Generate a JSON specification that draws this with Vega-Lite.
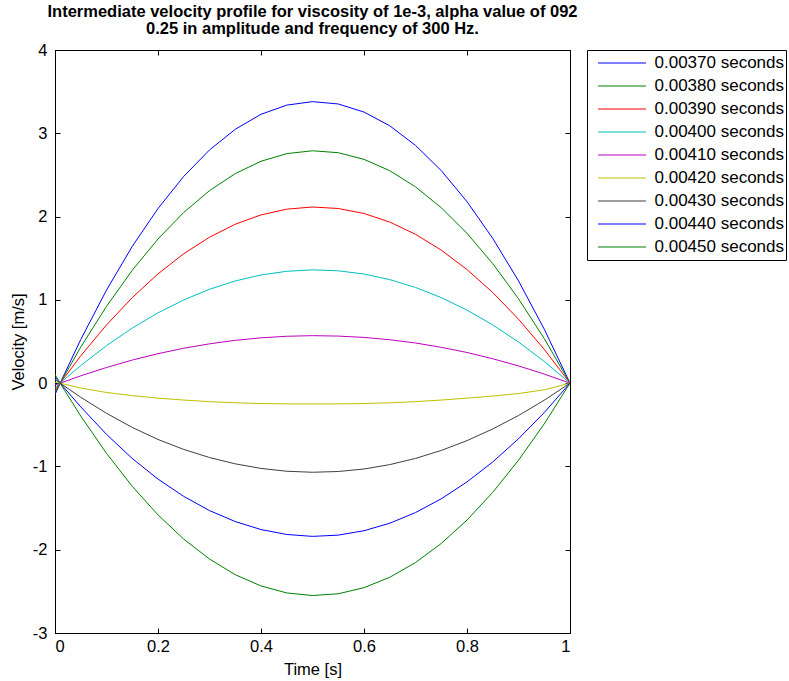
{
  "$schema": "https://vega.github.io/schema/vega-lite/v6.json",
  "width": 515,
  "height": 583,
  "autosize": {"type": "none"},
  "padding": {"left": 55, "top": 50, "right": 219, "bottom": 48},
  "background": "white",
  "title": {
    "text": ["Intermediate velocity profile for viscosity of 1e-3, alpha value of 092", "0.25 in amplitude and frequency of 300 Hz."],
    "font": "Liberation Sans",
    "fontSize": 16.5,
    "fontWeight": "bold",
    "color": "black",
    "lineHeight": 17,
    "offset": 5,
    "anchor": "middle"
  },
  "config": {
    "view": {"stroke": "black", "strokeWidth": 1},
    "axis": {
      "grid": false,
      "domainColor": "black",
      "tickColor": "black",
      "labelColor": "black",
      "titleColor": "black",
      "labelFont": "Liberation Sans",
      "titleFont": "Liberation Sans",
      "labelFontSize": 16.5,
      "titleFontSize": 16.5,
      "titleFontWeight": "normal",
      "tickSize": -5
    },
    "legend": {
      "labelFont": "Liberation Sans",
      "labelFontSize": 17,
      "labelColor": "black"
    }
  },
  "data": {
    "values": [
      {"t": 0, "370": -0.138, "380": -0.114, "390": -0.086, "400": -0.055, "410": -0.023, "420": 0.010, "430": 0.044, "440": 0.075, "450": 0.104},
      {"t": 0.01, "370": 0, "380": 0, "390": 0, "400": 0, "410": 0, "420": 0, "430": 0, "440": 0, "450": 0},
      {"t": 0.05, "370": 0.524, "380": 0.433, "390": 0.328, "400": 0.211, "410": 0.088, "420": -0.058, "430": -0.170, "440": -0.285, "450": -0.396},
      {"t": 0.10, "370": 1.117, "380": 0.922, "390": 0.699, "400": 0.450, "410": 0.188, "420": -0.112, "430": -0.362, "440": -0.615, "450": -0.843},
      {"t": 0.15, "370": 1.642, "380": 1.355, "390": 1.027, "400": 0.661, "410": 0.277, "420": -0.150, "430": -0.532, "440": -0.905, "450": -1.239},
      {"t": 0.20, "370": 2.097, "380": 1.731, "390": 1.312, "400": 0.844, "410": 0.354, "420": -0.180, "430": -0.676, "440": -1.152, "450": -1.582},
      {"t": 0.25, "370": 2.483, "380": 2.050, "390": 1.554, "400": 0.999, "410": 0.419, "420": -0.203, "430": -0.796, "440": -1.360, "450": -1.873},
      {"t": 0.30, "370": 2.800, "380": 2.311, "390": 1.752, "400": 1.127, "410": 0.472, "420": -0.222, "430": -0.893, "440": -1.530, "450": -2.112},
      {"t": 0.35, "370": 3.048, "380": 2.516, "390": 1.908, "400": 1.227, "410": 0.514, "420": -0.236, "430": -0.969, "440": -1.662, "450": -2.300},
      {"t": 0.40, "370": 3.228, "380": 2.664, "390": 2.020, "400": 1.299, "410": 0.544, "420": -0.245, "430": -1.024, "440": -1.758, "450": -2.435},
      {"t": 0.45, "370": 3.338, "380": 2.756, "390": 2.089, "400": 1.343, "410": 0.563, "420": -0.249, "430": -1.058, "440": -1.817, "450": -2.519},
      {"t": 0.50, "370": 3.380, "380": 2.790, "390": 2.115, "400": 1.360, "410": 0.570, "420": -0.250, "430": -1.070, "440": -1.840, "450": -2.550},
      {"t": 0.55, "370": 3.352, "380": 2.767, "390": 2.097, "400": 1.349, "410": 0.565, "420": -0.249, "430": -1.061, "440": -1.825, "450": -2.529},
      {"t": 0.60, "370": 3.255, "380": 2.687, "390": 2.037, "400": 1.310, "410": 0.549, "420": -0.245, "430": -1.031, "440": -1.772, "450": -2.456},
      {"t": 0.65, "370": 3.090, "380": 2.551, "390": 1.934, "400": 1.243, "410": 0.521, "420": -0.236, "430": -0.978, "440": -1.682, "450": -2.331},
      {"t": 0.70, "370": 2.855, "380": 2.357, "390": 1.787, "400": 1.149, "410": 0.482, "420": -0.222, "430": -0.904, "440": -1.554, "450": -2.154},
      {"t": 0.75, "370": 2.552, "380": 2.106, "390": 1.597, "400": 1.027, "410": 0.430, "420": -0.203, "430": -0.808, "440": -1.389, "450": -1.925},
      {"t": 0.80, "370": 2.179, "380": 1.799, "390": 1.364, "400": 0.877, "410": 0.368, "420": -0.180, "430": -0.690, "440": -1.186, "450": -1.644},
      {"t": 0.85, "370": 1.738, "380": 1.435, "390": 1.088, "400": 0.699, "410": 0.293, "420": -0.155, "430": -0.550, "440": -0.946, "450": -1.311},
      {"t": 0.90, "370": 1.228, "380": 1.013, "390": 0.768, "400": 0.494, "410": 0.207, "420": -0.125, "430": -0.389, "440": -0.668, "450": -0.926},
      {"t": 0.95, "370": 0.648, "380": 0.535, "390": 0.406, "400": 0.261, "410": 0.109, "420": -0.080, "430": -0.205, "440": -0.353, "450": -0.489},
      {"t": 1.0, "370": 0, "380": 0, "390": 0, "400": 0, "410": 0, "420": 0, "430": 0, "440": 0, "450": 0}
    ]
  },
  "transform": [
    {"fold": ["370", "380", "390", "400", "410", "420", "430", "440", "450"], "as": ["series", "velocity"]}
  ],
  "layer": [
    {
      "mark": {"type": "line", "strokeWidth": 1, "clip": true},
      "encoding": {
        "x": {
          "field": "t", "type": "quantitative",
          "scale": {"domain": [0, 1], "nice": false, "zero": false},
          "axis": {"values": [0, 0.2, 0.4, 0.6, 0.8, 1], "title": "Time [s]", "labelPadding": 10, "titlePadding": 7, "labelExpr": "toString(datum.value)"}
        },
        "y": {
          "field": "velocity", "type": "quantitative",
          "scale": {"domain": [-3, 4], "nice": false, "zero": false},
          "axis": {"values": [-3, -2, -1, 0, 1, 2, 3, 4], "title": "Velocity [m/s]", "labelPadding": 13, "titlePadding": 6, "labelExpr": "toString(datum.value)"}
        },
        "color": {
          "field": "series", "type": "nominal",
          "scale": {"range": ["#0000FF", "#008000", "#FF0000", "#00BFBF", "#BF00BF", "#BFBF00", "#404040", "#0000FF", "#008000"]},
          "legend": {
            "orient": "none",
            "legendX": 532,
            "legendY": 0,
            "title": null,
            "labelExpr": "'0.00' + datum.label + ' seconds'",
            "symbolType": "stroke",
            "symbolSize": 2304,
            "symbolStrokeWidth": 1,
            "strokeColor": "black",
            "fillColor": "white",
            "padding": 1.5,
            "clipHeight": 23,
            "rowPadding": 0,
            "symbolOffset": 9,
            "labelOffset": 8
          }
        }
      }
    },
    {
      "mark": {"type": "line", "opacity": 0},
      "encoding": {
        "x": {"field": "t", "type": "quantitative", "axis": {"orient": "top", "values": [0, 0.2, 0.4, 0.6, 0.8, 1], "labels": false, "title": null}},
        "y": {"field": "velocity", "type": "quantitative", "axis": {"orient": "right", "values": [-3, -2, -1, 0, 1, 2, 3, 4], "labels": false, "title": null}},
        "detail": {"field": "series"}
      }
    }
  ],
  "resolve": {"axis": {"x": "independent", "y": "independent"}}
}
